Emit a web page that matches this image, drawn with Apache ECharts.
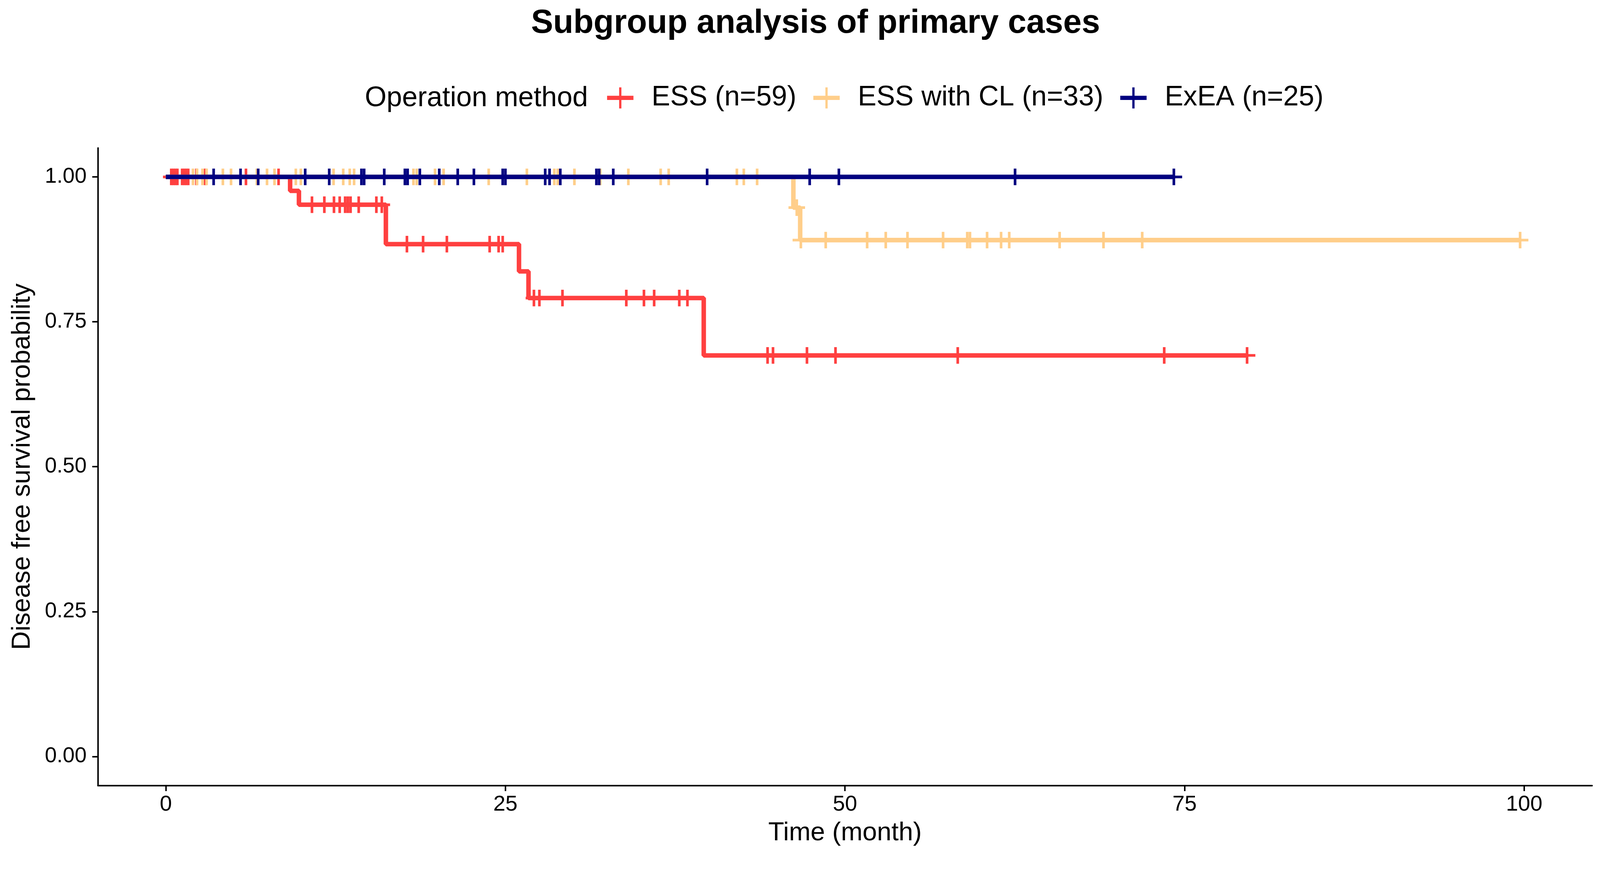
<!DOCTYPE html>
<html>
<head>
<meta charset="UTF-8">
<title>Subgroup analysis of primary cases</title>
<script src="https://cdn.jsdelivr.net/npm/echarts@6/dist/echarts.min.js"></script>
<style>
  html, body { margin: 0; padding: 0; background: #fff; overflow: hidden; }
  #chart { width: 4249px; height: 2269px; }
</style>
</head>
<body>
<div id="chart"></div>
<script type="text/javascript">
// axis ticks
var timeTicks = [0, 25, 50, 75, 100];
var probTicks = [0, 0.25, 0.5, 0.75, 1];

// group names
var groupNames = ['ESS (n=59)', 'ESS with CL (n=33)', 'ExEA (n=25)'];
var groupColors = ['#FF4040', '#FFCE8A', '#000080'];

// ESS: step times / survival after each step, censor times
var essStepTime = [0, 9.15, 9.8, 16.2, 26.0, 26.7, 39.6, 79.6];
var essStepSurv = [1, 0.976, 0.952, 0.884, 0.837, 0.791, 0.692, 0.692];
var essCensor = [0.4, 0.55, 0.7, 0.85, 1.2, 1.35, 1.5, 1.65, 2.25, 2.9, 5.9, 8.3,
  10.76, 11.67, 12.38, 12.8, 13.2, 13.4, 13.6, 14.2, 15.5, 15.9,
  17.75, 18.94, 20.69, 23.84, 24.5, 24.8,
  27.1, 27.5, 29.2, 33.9, 35.2, 35.95, 37.8, 38.4,
  44.3, 44.7, 47.2, 49.3, 58.3, 73.5, 79.6];

// ESS with CL
var clStepTime = [0, 46.2, 46.7, 99.7];
var clStepSurv = [1, 0.947, 0.891, 0.891];
var clCensor = [2.0, 2.3, 2.7, 3.0, 4.2, 4.8, 6.7, 7.45, 8.0, 9.57, 9.94,
  12.35, 13.06, 13.54, 13.86, 18.23, 18.47, 19.82, 20.45, 23.77,
  26.58, 28.6, 28.85, 30.08, 31.98, 34.05, 36.43, 37.02, 42.04, 42.55, 43.53,
  46.45, 46.75, 48.58, 51.63, 53.0, 54.6, 57.22, 59.0, 59.2, 60.46, 61.49, 62.09,
  65.8, 69.03, 71.88, 99.7];

// ExEA
var exStepTime = [0, 74.2];
var exStepSurv = [1, 1];
var exCensor = [3.52, 5.5, 6.8, 10.26, 12.03, 14.4, 14.6, 16.08, 17.6, 17.8, 18.7,
  20.13, 21.49, 22.68, 24.8, 25.0, 27.93, 28.25, 29.04, 31.7, 31.9, 32.94,
  39.85, 47.4, 49.55, 62.52, 74.21];

// layout was measured on a 4249x2269 picture; scale it to the real window width
var S = (window.innerWidth || 4249) / 4249;
function px(v) { return v * S; }

var box = document.getElementById('chart');
box.style.width = px(4249) + 'px';
box.style.height = px(2269) + 'px';

var fontMain = 'Liberation Sans, Arial, sans-serif';
var plusIcon = 'path://M0,22.5 L70,22.5 L70,33.5 L0,33.5 Z M32,0 L38,0 L38,56 L32,56 Z';
var censorMark = 'path://M0,18.5 L44,18.5 L44,25.5 L0,25.5 Z M18.5,0 L25.5,0 L25.5,44 L18.5,44 Z';

function stepData(times, survs) {
  return times.map(function (t, i) { return [t, survs[i]]; });
}
function survAt(times, survs, t) {
  var s = survs[0];
  for (var i = 0; i < times.length; i++) {
    if (times[i] <= t) s = survs[i];
  }
  return s;
}
function censorData(cens, times, survs) {
  return cens.map(function (t) { return [t, survAt(times, survs, t)]; });
}

var groups = [
  [essStepTime, essStepSurv, essCensor],
  [clStepTime, clStepSurv, clCensor],
  [exStepTime, exStepSurv, exCensor]
];

var series = [];
groups.forEach(function (g, i) {
  series.push({
    name: groupNames[i],
    type: 'line',
    step: 'end',
    data: stepData(g[0], g[1]),
    showSymbol: false,
    symbol: 'none',
    z: 2 + i * 2,
    itemStyle: { color: groupColors[i] },
    lineStyle: { color: groupColors[i], width: px(12) },
    animation: false
  });
  series.push({
    name: groupNames[i],
    type: 'scatter',
    data: censorData(g[2], g[0], g[1]),
    symbol: censorMark,
    symbolSize: [px(44), px(44)],
    z: 3 + i * 2,
    itemStyle: { color: groupColors[i], opacity: 1 },
    animation: false
  });
});

var my_chart = echarts.init(box);
var option = {
  backgroundColor: '#fff',
  animation: false,
  title: {
    text: 'Subgroup analysis of primary cases',
    left: px(1405),
    top: px(14),
    textStyle: { fontFamily: fontMain, fontSize: px(88), fontWeight: 'bold', color: '#000' }
  },
  graphic: [{
    type: 'text',
    x: px(969),
    y: px(262),
    style: {
      text: 'Operation method',
      fontFamily: fontMain,
      fontSize: px(74),
      fill: '#000',
      verticalAlign: 'middle'
    }
  }],
  legend: {
    data: groupNames,
    left: px(1607),
    top: px(218),
    icon: plusIcon,
    itemWidth: px(70),
    itemHeight: px(56),
    itemGap: px(45),
    textStyle: {
      fontFamily: fontMain,
      fontSize: px(74),
      color: '#000',
      padding: [0, 0, 0, px(43)]
    }
  },
  grid: { left: px(260), right: px(21), top: px(393), bottom: px(182), containLabel: false },
  xAxis: {
    type: 'value',
    min: -5,
    max: 105,
    name: 'Time (month)',
    nameLocation: 'middle',
    nameGap: px(92),
    nameTextStyle: { fontFamily: fontMain, fontSize: px(69), color: '#000' },
    axisLine: { onZero: false, lineStyle: { color: '#000', width: px(4) } },
    axisTick: { customValues: timeTicks, length: px(15), lineStyle: { color: '#000', width: px(4) } },
    axisLabel: { customValues: timeTicks, fontFamily: fontMain, fontSize: px(58), color: '#000', margin: px(22) },
    splitLine: { show: false }
  },
  yAxis: {
    type: 'value',
    min: -0.05,
    max: 1.05,
    name: 'Disease free survival probability',
    nameLocation: 'middle',
    nameGap: px(165),
    nameTextStyle: { fontFamily: fontMain, fontSize: px(69), color: '#000' },
    axisLine: { show: true, onZero: false, lineStyle: { color: '#000', width: px(4) } },
    axisTick: { show: true, customValues: probTicks, length: px(15), lineStyle: { color: '#000', width: px(4) } },
    axisLabel: {
      customValues: probTicks,
      fontFamily: fontMain,
      fontSize: px(57),
      color: '#000',
      margin: px(30),
      formatter: function (v) { return v.toFixed(2); }
    },
    splitLine: { show: false }
  },
  series: series
};
my_chart.setOption(option);
</script>
</body>
</html>
